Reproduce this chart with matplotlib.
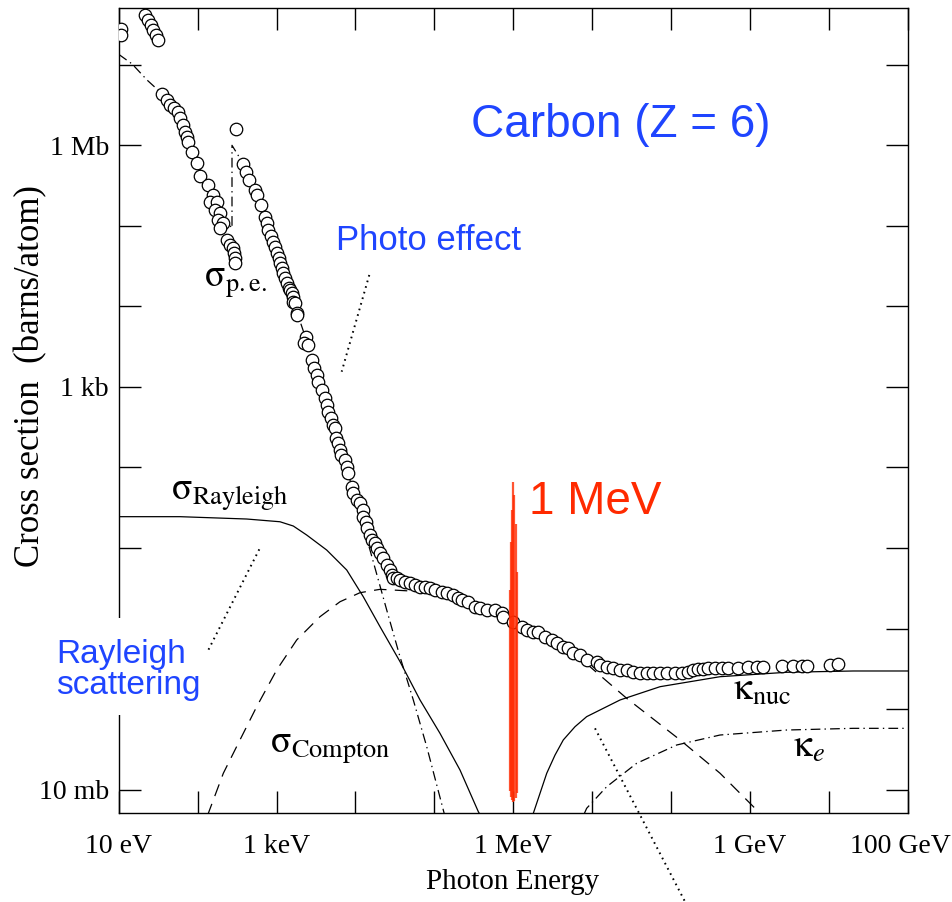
import matplotlib.pyplot as plt
import numpy as np
from matplotlib.ticker import NullLocator
from matplotlib.patches import Rectangle
from matplotlib.transforms import ScaledTranslation

plt.rcParams['font.family'] = 'Liberation Serif'
plt.rcParams['mathtext.fontset'] = 'stix'
plt.rcParams['lines.scale_dashes'] = False

# measured total cross section (open circles): log10(E / eV), log10(sigma / barn)
data_log_e = [1.025, 1.025, 1.333, 1.375, 1.406, 1.439, 1.469, 1.502,
              1.553, 1.608, 1.650, 1.701, 1.755, 1.777, 1.811, 1.840, 1.862, 1.882,
              1.925, 1.989, 2.030, 2.136, 2.199, 2.157, 2.250, 2.221, 2.284, 2.262,
              2.318, 2.284, 2.369, 2.411, 2.452, 2.465, 2.474, 2.474,
              2.487,
              2.579, 2.613, 2.655, 2.727, 2.749, 2.804, 2.854, 2.876, 2.896, 2.930,
              2.959, 2.981, 3.002, 3.035, 3.044, 3.066, 3.086, 3.108, 3.129, 3.162,
              3.171, 3.193, 3.213, 3.213, 3.234, 3.256, 3.264, 3.370, 3.349, 3.403,
              3.446, 3.475, 3.509, 3.530, 3.573, 3.615, 3.636, 3.657, 3.687, 3.712,
              3.741, 3.754, 3.783, 3.805, 3.814, 3.868, 3.897, 3.910, 3.953, 3.973,
              4.016, 4.058, 4.100, 4.100, 4.134, 4.151, 4.185, 4.207, 4.248, 4.270,
              4.312, 4.354, 4.397, 4.439, 4.460, 4.480, 4.523, 4.565, 4.628, 4.692,
              4.755, 4.819, 4.882, 4.945, 5.009, 5.094, 5.157, 5.241, 5.304, 5.347,
              5.431, 5.516, 5.579, 5.664, 5.769, 5.854, 5.874, 6.001, 6.108, 6.171,
              6.255, 6.318, 6.403, 6.488, 6.551, 6.635, 6.698, 6.762, 6.847, 6.931,
              7.058, 7.100, 7.185, 7.269, 7.354, 7.438, 7.522, 7.607, 7.692, 7.776,
              7.861, 7.945, 8.050, 8.136, 8.219, 8.283, 8.346, 8.409, 8.473, 8.558,
              8.642, 8.726, 8.853, 8.980, 9.086, 9.170, 9.403, 9.550, 9.656, 9.720,
              10.015, 10.120]
data_log_xs = [7.44, 7.37, 7.618, 7.556, 7.494, 7.432, 7.370, 7.307,
               6.637, 6.562, 6.500, 6.463, 6.417, 6.335, 6.252, 6.169, 6.107, 6.045,
               5.921, 5.784, 5.623, 5.507, 5.383, 5.300, 5.300, 5.197, 5.156, 5.073,
               5.039, 4.969, 4.824, 4.762, 4.721, 4.659, 4.597, 4.535,
               6.199,
               5.768, 5.672, 5.569, 5.445, 5.383, 5.259, 5.106, 5.032, 4.948, 4.874,
               4.803, 4.741, 4.659, 4.597, 4.535, 4.473, 4.411, 4.349, 4.287, 4.224,
               4.203, 4.162, 4.120, 4.058, 4.038, 3.914, 3.893, 3.616, 3.542, 3.521,
               3.334, 3.231, 3.148, 3.065, 2.962, 2.859, 2.776, 2.692, 2.610, 2.528,
               2.486, 2.362, 2.300, 2.217, 2.155, 2.093, 2.009, 1.927, 1.761, 1.679,
               1.596, 1.555, 1.472, 1.389, 1.327, 1.245, 1.161, 1.099, 1.058, 0.996,
               0.934, 0.872, 0.789, 0.727, 0.665, 0.624, 0.624, 0.603, 0.582, 0.562,
               0.541, 0.520, 0.520, 0.500, 0.479, 0.458, 0.438, 0.417, 0.376, 0.355,
               0.333, 0.271, 0.251, 0.230, 0.230, 0.189, 0.147, 0.085, 0.023, -0.018,
               -0.039, -0.039, -0.101, -0.142, -0.183, -0.225, -0.245, -0.307, -0.328, -0.390,
               -0.412, -0.453, -0.474, -0.494, -0.515, -0.515, -0.536, -0.556, -0.556, -0.556,
               -0.556, -0.556, -0.556, -0.556, -0.536, -0.515, -0.506, -0.506, -0.494, -0.494,
               -0.494, -0.494, -0.494, -0.481, -0.481, -0.474, -0.465, -0.465, -0.465, -0.465,
               -0.453, -0.441]

# photoelectric effect (with carbon K edge)
pe_log_e = [1.0, 1.17, 1.36, 1.55, 1.70, 1.85, 1.95, 2.05, 2.15, 2.30, 2.436,
            2.436, 2.58, 2.73, 2.88, 3.0, 3.2, 3.4, 3.6, 3.8, 4.0, 4.185,
            4.397, 4.565, 4.734, 4.904, 5.114, 5.14]
pe_log_xs = [7.13, 7.01, 6.81, 6.64, 6.47, 6.15, 5.88, 5.66, 5.45, 5.15, 4.97,
             6.00, 5.77, 5.44, 5.03, 4.67, 4.10, 3.52, 2.89, 2.27, 1.62, 0.975,
             0.230, -0.350, -0.887, -1.467, -2.253, -2.35]

# Rayleigh (coherent) scattering
ray_log_e = [1.0, 1.777, 2.622, 3.044, 3.213, 3.383, 3.636, 3.890, 4.100, 4.312,
             4.565, 4.819, 5.072, 5.326, 5.558, 5.58]
ray_log_xs = [1.389, 1.389, 1.360, 1.326, 1.273, 1.161, 0.975, 0.727, 0.395, 0.023,
              -0.41, -0.887, -1.301, -1.757, -2.274, -2.31]

# Compton (incoherent) scattering
comp_log_e = [2.12, 2.136, 2.326, 2.537, 2.749, 3.002, 3.256, 3.551, 3.805, 4.058,
              4.312, 5.0, 5.5, 6.0, 6.5, 6.973, 7.438, 8.115, 8.622, 9.128, 9.15]
comp_log_xs = [-2.32, -2.294, -1.797, -1.383, -0.970, -0.515, -0.142, 0.147, 0.333, 0.445,
               0.487, 0.45, 0.30, 0.05, -0.20, -0.474, -0.866, -1.383, -1.797, -2.294, -2.32]

# pair production, nuclear field
nuc_log_e = [6.24, 6.255, 6.425, 6.530, 6.635, 6.783, 6.931, 7.354, 7.861, 8.621,
             9.466, 10.310, 11.0]
nuc_log_xs = [-2.40, -2.294, -1.797, -1.571, -1.383, -1.219, -1.094, -0.887, -0.722, -0.598,
              -0.543, -0.527, -0.527]

# pair production, electron field
el_log_e = [6.90, 6.931, 7.185, 7.565, 8.072, 8.621, 9.466, 10.310, 11.0]
el_log_xs = [-2.30, -2.232, -1.964, -1.673, -1.446, -1.322, -1.260, -1.239, -1.239]

# dotted pointer lines (log10 E, log10 sigma)
pointer_photo = ([4.176, 3.826], [4.390, 3.189])
pointer_rayleigh = ([2.782, 2.115], [0.984, -0.307])
pointer_pair = ([7.037, 8.178], [-1.239, -3.392])

# 1 MeV highlight (brush strokes: offset in decades, top and bottom in barns)
mev = 1e6
stroke_offsets = [-0.045, -0.03, -0.015, 0.0, 0.015, 0.03, 0.045]
stroke_tops = [3.0, 12.0, 30.0, 66.0, 45.0, 20.0, 5.0]
stroke_bottoms = [0.0095, 0.008, 0.0075, 0.0071, 0.0073, 0.0078, 0.009]

x_decades = list(range(1, 12))
x_names = {1: '10 eV', 3: '1 keV', 6: '1 MeV', 9: '1 GeV', 11: '100 GeV'}
y_decades = list(range(-2, 8))
y_names = {-2: '10 mb', 3: '1 kb', 6: '1 Mb'}

W, H = 953, 902


def fpos(x, y):
    return x / W, 1 - y / H


fig = plt.figure(figsize=(W / 100, H / 100), dpi=100)
ax = fig.add_axes([118.7 / W, 1 - 813.3 / H, 789 / W, 805.3 / H])

lw = 0.9
dashdot = (0, (7, 3, 1, 3))
ax.plot(10 ** np.array(pe_log_e), 10 ** np.array(pe_log_xs), color='black', lw=lw,
        linestyle=dashdot)
ax.plot(10 ** np.array(ray_log_e), 10 ** np.array(ray_log_xs), color='black', lw=lw)
ax.plot(10 ** np.array(comp_log_e), 10 ** np.array(comp_log_xs), color='black', lw=lw,
        linestyle=(0, (9, 6)))
ax.plot(10 ** np.array(nuc_log_e), 10 ** np.array(nuc_log_xs), color='black', lw=lw)
ax.plot(10 ** np.array(el_log_e), 10 ** np.array(el_log_xs), color='black', lw=lw,
        linestyle=dashdot)

for px, py in [pointer_photo, pointer_rayleigh, pointer_pair]:
    ax.plot(10 ** np.array(px), 10 ** np.array(py), color='black', lw=1.4,
            linestyle=(0, (1.2, 3)), clip_on=False)

ax.plot(10 ** np.array(data_log_e), 10 ** np.array(data_log_xs), 'o', ms=9,
        mfc='white', mec='black', mew=0.9, zorder=4)

# red hand-drawn marker at 1 MeV
for off, top, bot in zip(stroke_offsets, stroke_tops, stroke_bottoms):
    ax.vlines(mev * 10 ** off, bot, top, color='#ff2a00', lw=1.6, alpha=0.8, zorder=5)

ax.set_xscale('log')
ax.set_yscale('log')
ax.set_xlim(10, 1e11)
ax.set_ylim(10 ** -2.294, 10 ** 7.705)

ax.set_xticks([10.0 ** k for k in x_decades])
ax.set_xticklabels([x_names.get(k, '') for k in x_decades])
ax.set_yticks([10.0 ** k for k in y_decades])
ax.set_yticklabels([y_names.get(k, '') for k in y_decades])
ax.xaxis.set_minor_locator(NullLocator())
ax.yaxis.set_minor_locator(NullLocator())
ax.tick_params(direction='in', length=16, width=1, top=True, right=True, labelsize=20)
ax.tick_params(axis='x', pad=15)
ax.tick_params(axis='y', pad=7)
for s in ax.spines.values():
    s.set_linewidth(1)

# keep "100 GeV" inside the figure
last = ax.get_xticklabels()[-1]
last.set_transform(last.get_transform() + ScaledTranslation(-0.07, 0, fig.dpi_scale_trans))

fig.text(*fpos(513, 882), 'Photon Energy', ha='center', va='center', fontsize=21)
fig.text(*fpos(31, 376), 'Cross section  (barns/atom)', ha='center', va='center',
         rotation=90, fontsize=25)

# curve labels
lab = 27
fig.text(*fpos(204, 287), r'$\mathrm{\sigma}_{\rm p.e.}$', fontsize=lab, va='baseline')
fig.text(*fpos(171, 500), r'$\mathrm{\sigma}_{\rm Rayleigh}$', fontsize=lab, va='baseline')
fig.text(*fpos(270, 753), r'$\mathrm{\sigma}_{\rm Compton}$', fontsize=lab, va='baseline')
fig.text(*fpos(733, 700), r'$\mathrm{\kappa}_{\rm nuc}$', fontsize=lab, va='baseline')
fig.text(*fpos(793, 757), r'$\mathrm{\kappa}_e$', fontsize=lab, va='baseline')

# white patch behind the Rayleigh label (hides part of the left axis)
x0, y0 = fpos(48, 715)
x1, y1 = fpos(150, 618)
fig.add_artist(Rectangle((x0, y0), x1 - x0, y1 - y0, transform=fig.transFigure,
                         facecolor='white', edgecolor='none', zorder=2.5))

blue = '#1f45ff'
fig.text(*fpos(621, 125), 'Carbon (Z = 6)', color=blue, fontsize=33,
         family='Liberation Sans', ha='center', va='center')
fig.text(*fpos(429, 241), 'Photo effect', color=blue, fontsize=25,
         family='Liberation Sans', ha='center', va='center')
fig.text(*fpos(56, 670), 'Rayleigh\nscattering', color=blue, fontsize=24,
         family='Liberation Sans', ha='left', va='center', linespacing=1.0, zorder=3)
fig.text(*fpos(595, 502), '1 MeV', color='#ff2a00', fontsize=33,
         family='Liberation Sans', ha='center', va='center')

fig.savefig('out.png', dpi=100)
